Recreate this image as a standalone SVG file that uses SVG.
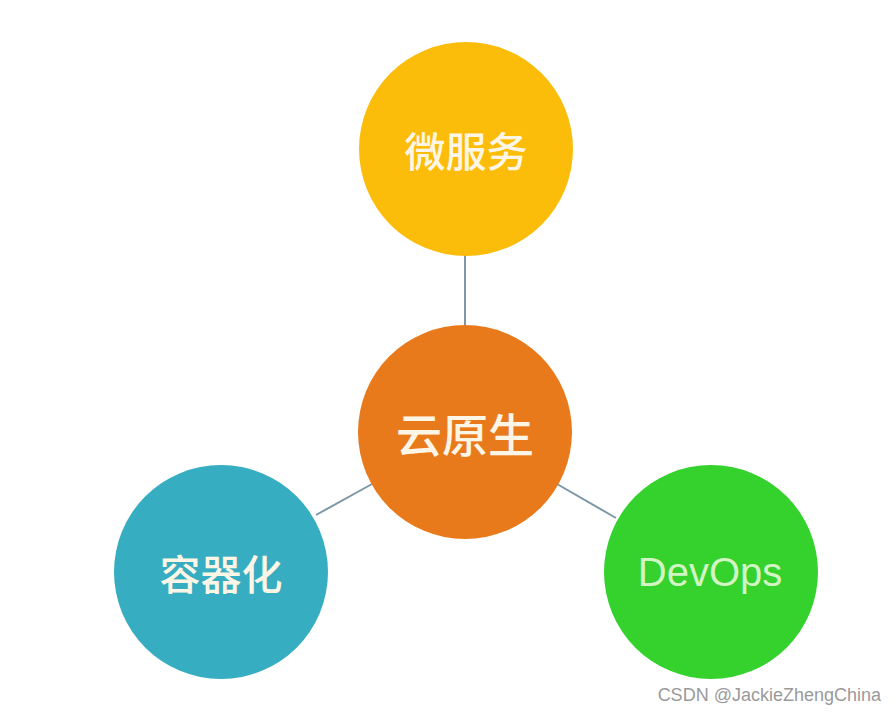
<svg xmlns="http://www.w3.org/2000/svg" width="896" height="714" viewBox="0 0 896 714">
<style>
.lbl{font-family:"Noto Sans CJK SC","Liberation Sans",sans-serif;font-weight:500;fill:#fdf6e6;text-anchor:middle;dominant-baseline:central}
.conn line{stroke:#7d97a6;stroke-width:2}
</style>
<rect width="896" height="714" fill="#ffffff"/>
<g id="connectors" class="conn">
<line x1="465" y1="255" x2="465" y2="325"/>
<line x1="316" y1="515" x2="372" y2="484"/>
<line x1="557" y1="484" x2="616" y2="518"/>
</g>
<g id="node-microservices">
<circle cx="466" cy="149" r="107" fill="#fcbd0a"/>
<text class="lbl" x="466" y="149" font-size="41">微服务</text>
</g>
<g id="node-cloudnative">
<circle cx="465" cy="432" r="107" fill="#e97a1c"/>
<text class="lbl" x="465" y="432" font-size="46">云原生</text>
</g>
<g id="node-container">
<circle cx="221" cy="572" r="107" fill="#37adc1"/>
<text class="lbl" x="221" y="572" font-size="41">容器化</text>
</g>
<g id="node-devops">
<circle cx="711" cy="572" r="107" fill="#35d22d"/>
<text class="lbl" x="710" y="572" font-size="40" style="font-family:'Liberation Sans',sans-serif;font-weight:normal;fill:#d2f5c4">DevOps</text>
</g>
<text x="881" y="701" font-family="Liberation Sans, sans-serif" font-size="18" fill="#9a9a9a" text-anchor="end">CSDN @JackieZhengChina</text>
</svg>
